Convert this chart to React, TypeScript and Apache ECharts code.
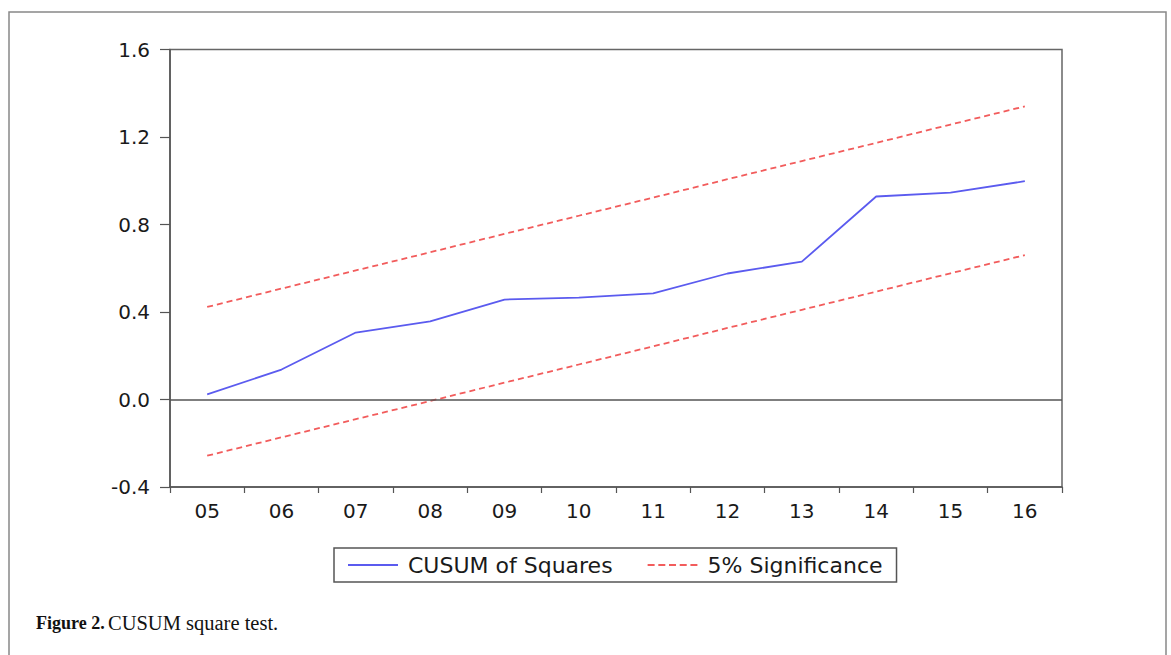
import React, { useEffect, useRef } from "react";
import * as echarts from "echarts";

const categories = ["05", "06", "07", "08", "09", "10", "11", "12", "13", "14", "15", "16"];
const cusumSq = [0.023, 0.137, 0.306, 0.357, 0.457, 0.466, 0.485, 0.576, 0.63, 0.928, 0.946, 0.998];
const upperBound = [0.423, 0.507, 0.59, 0.673, 0.757, 0.84, 0.923, 1.007, 1.09, 1.173, 1.257, 1.34];
const lowerBound = [-0.257, -0.173, -0.09, -0.007, 0.077, 0.16, 0.243, 0.327, 0.41, 0.493, 0.577, 0.66];

const SANS = "'DejaVu Sans', 'Liberation Sans', Arial, sans-serif";
const SERIF = "'Liberation Serif', 'Times New Roman', serif";
const BLUE = "#5b5bef";
const RED = "#f25c5c";

const DASH_ICON =
  "path://M0,0h7v2h-7z M10.7,0h7v2h-7z M21.4,0h7v2h-7z M32.1,0h7v2h-7z M42.8,0h7v2h-7z";

export default function App() {
  const ref = useRef<HTMLDivElement>(null);
  useEffect(() => {
    if (!ref.current) return;
    const chart = echarts.init(ref.current, null, { renderer: "svg" });
    chart.setOption({
      animation: false,
      backgroundColor: "#ffffff",
      grid: {
        left: 170,
        top: 49.5,
        right: 109,
        bottom: 168,
        show: true,
        borderColor: "#666",
        borderWidth: 1.5,
      },
      legend: {
        left: 334,
        top: 548,
        padding: [6, 14, 6, 14],
        borderColor: "#555",
        borderWidth: 1.5,
        itemWidth: 50,
        itemHeight: 2,
        itemGap: 35,
        data: [
          { name: "CUSUM of Squares", icon: "rect" },
          { name: "5% Significance", icon: DASH_ICON },
        ],
        textStyle: { fontFamily: SANS, fontSize: 22, color: "#1a1a1a", padding: [0, 0, 0, 5] },
      },
      xAxis: {
        type: "category",
        data: categories,
        boundaryGap: true,
        axisLine: { onZero: false, lineStyle: { color: "#555", width: 1.5 } },
        axisTick: { show: true, length: 6, lineStyle: { color: "#555", width: 1.2 } },
        axisLabel: { fontFamily: SANS, fontSize: 20, color: "#1a1a1a", margin: 14 },
        splitLine: { show: false },
      },
      yAxis: {
        type: "value",
        min: -0.4,
        max: 1.6,
        interval: 0.4,
        axisLine: { show: true, lineStyle: { color: "#555", width: 1.5 } },
        axisTick: { show: true, length: 10, lineStyle: { color: "#555", width: 1.2 } },
        axisLabel: {
          fontFamily: SANS,
          fontSize: 20,
          color: "#1a1a1a",
          margin: 20,
          formatter: (v: number) => v.toFixed(1),
        },
        splitLine: { show: false },
      },
      series: [
        {
          name: "CUSUM of Squares",
          type: "line",
          data: cusumSq,
          symbol: "none",
          lineStyle: { color: BLUE, width: 1.8 },
          itemStyle: { color: BLUE },
          markLine: {
            silent: true,
            symbol: "none",
            label: { show: false },
            lineStyle: { color: "#555", type: "solid", width: 1.5 },
            data: [{ yAxis: 0 }],
          },
        },
        {
          name: "5% Significance",
          type: "line",
          data: upperBound,
          symbol: "none",
          lineStyle: { color: RED, width: 1.8, type: [6, 4] },
          itemStyle: { color: RED },
        },
        {
          name: "5% Significance",
          type: "line",
          data: lowerBound,
          symbol: "none",
          lineStyle: { color: RED, width: 1.8, type: [6, 4] },
          itemStyle: { color: RED },
        },
      ],
      graphic: [
        {
          type: "rect",
          shape: { x: 9, y: 12, width: 1157, height: 700 },
          style: { fill: "none", stroke: "#888", lineWidth: 1.5 },
          silent: true,
        },
        {
          type: "text",
          left: 36,
          top: 612,
          style: {
            text: "{b|Figure 2.} {r|CUSUM square test.}",
            rich: {
              b: { fontFamily: SERIF, fontSize: 18, fontWeight: "bold", fill: "#111" },
              r: { fontFamily: SERIF, fontSize: 20.5, fill: "#111" },
            },
          },
        },
      ],
    });
    return () => chart.dispose();
  }, []);
  return (
    <div
      ref={ref}
      style={{ position: "absolute", left: 0, top: 0, width: 1171, height: 655 }}
    />
  );
}
